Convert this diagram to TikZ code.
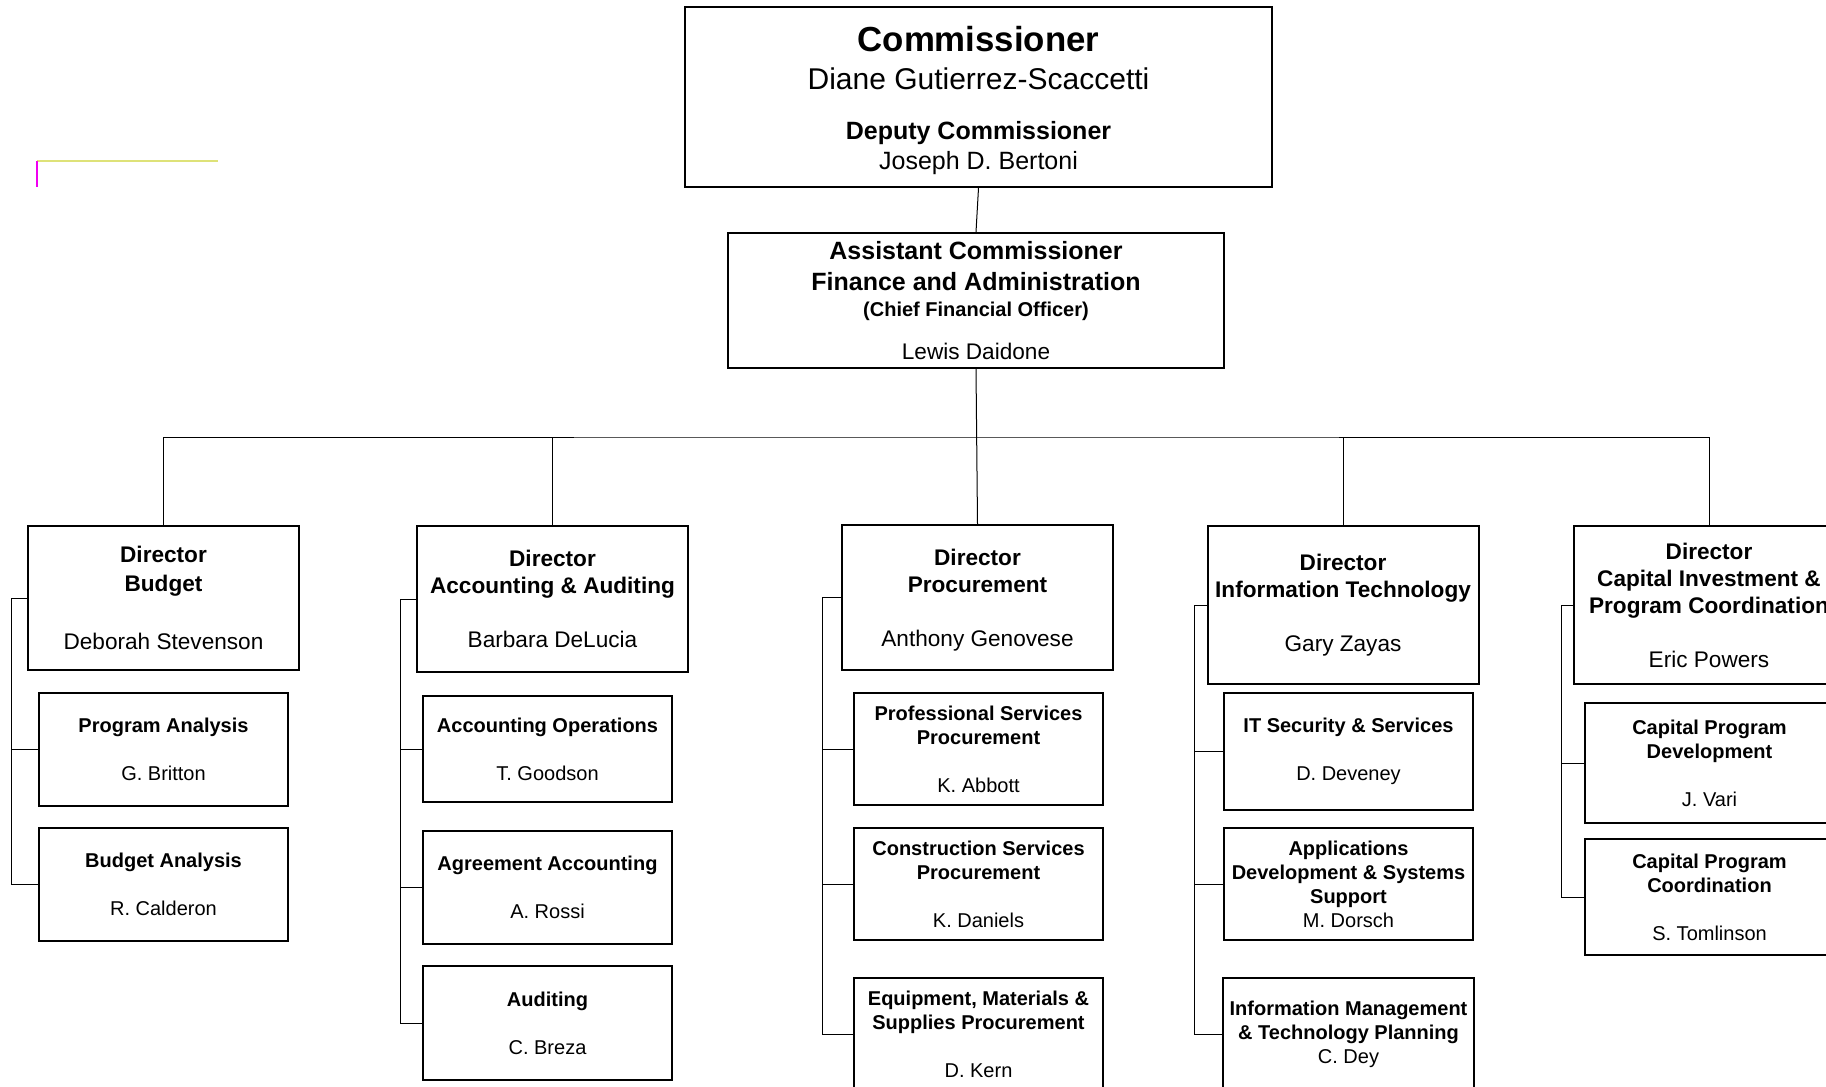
\documentclass[tikz,border=0pt]{standalone}
\usepackage{fontspec}
\setmainfont{Liberation Sans}
\definecolor{strayyellow}{RGB}{222,226,120}
\definecolor{straymagenta}{RGB}{240,0,240}
\tikzset{headbox/.style={draw, line width=1pt, align=center, inner sep=2pt},
dirbox/.style={draw, line width=1pt, align=center, minimum width=135.5pt,
font=\fontsize{11.3}{13.5}\selectfont},
unitbox/.style={draw, line width=1pt, align=center, minimum width=124.5pt,
font=\fontsize{10}{12}\selectfont},
link/.style={line width=0.5pt}}

\begin{document}
\begin{tikzpicture}[x=0.5pt, y=-0.5pt]
        \useasboundingbox (0, 0) rectangle (1826, 1087);
        \clip (0, 0) rectangle (1826, 1087);

        \draw[strayyellow, line width=0.8pt] (37, 161) -- (218, 161);
        \draw[straymagenta, line width=0.8pt] (37, 161) -- (37, 187);

        \node[headbox, minimum width=293.5pt, minimum height=90pt, font=\fontsize{12.5}{15}\selectfont] (comm) at (978.5, 97)
            {\rule{0pt}{16.2pt}{\fontsize{17.4}{20}\selectfont\bfseries Commissioner}\\[3.8pt]
             {\fontsize{15}{18}\selectfont Diane Gutierrez-Scaccetti}\\[10.4pt]
             \textbf{Deputy Commissioner}\\ Joseph D. Bertoni};
        \node[headbox, minimum width=248pt, minimum height=67.5pt, font=\fontsize{12.5}{13}\selectfont] (asst) at (976, 300.5)
            {\textbf{Assistant Commissioner}\\[2.5pt] \textbf{Finance and Administration}\\
             {\fontsize{10}{12}\selectfont\bfseries (Chief Financial Officer)}\\[8.75pt]
             {\fontsize{11.3}{13}\selectfont Lewis Daidone}};

        \node[dirbox, minimum height=72pt, font=\fontsize{11.3}{14.5}\selectfont] (dirBudget) at (163.5, 598) {\textbf{Director}\\ \textbf{Budget}\\[14.5pt] Deborah Stevenson};
        \node[dirbox, minimum height=73pt] (dirAcct) at (552.5, 599) {\textbf{Director}\\ \textbf{Accounting \& Auditing}\\[13.5pt] Barbara DeLucia};
        \node[dirbox, minimum height=72.5pt] (dirProc) at (977.5, 597.5) {\rule{0pt}{10.5pt}\textbf{Director}\\ \textbf{Procurement}\\[13.5pt] Anthony Genovese};
        \node[dirbox, minimum height=79pt] (dirIT) at (1343, 605) {\textbf{Director}\\ \textbf{Information Technology}\\[13.5pt] Gary Zayas};
        \node[dirbox, minimum height=79pt] (dirCap) at (1709, 605) {\textbf{Director}\\ \textbf{Capital Investment \&}\\ \textbf{Program Coordination}\\[13.5pt] Eric Powers};

        \node[unitbox, minimum height=56.5pt] (progAn) at (163.5, 749.5) {\textbf{Program Analysis}\\[12pt] G. Britton};
        \node[unitbox, minimum height=56.5pt] (budAn) at (163.5, 884.5) {\textbf{Budget Analysis}\\[12pt] R. Calderon};

        \node[unitbox, minimum height=53pt] (acctOps) at (547.5, 749) {\textbf{Accounting Operations}\\[12pt] T. Goodson};
        \node[unitbox, minimum height=56.5pt] (agrAcct) at (547.5, 887.5) {\textbf{Agreement Accounting}\\[12pt] A. Rossi};
        \node[unitbox, minimum height=57pt] (audit) at (547.5, 1023) {\textbf{Auditing}\\[12pt] C. Breza};

        \node[unitbox, minimum height=56pt] (profServ) at (978.5, 749) {\textbf{Professional Services}\\ \textbf{Procurement}\\[12pt] K. Abbott};
        \node[unitbox, minimum height=56pt] (constServ) at (978.5, 884) {\textbf{Construction Services}\\ \textbf{Procurement}\\[12pt] K. Daniels};
        \node[unitbox, minimum height=56pt] (equipSup) at (978.5, 1034) {\textbf{Equipment, Materials \&}\\ \textbf{Supplies Procurement}\\[12pt] D. Kern};

        \node[unitbox, minimum height=58.5pt] (itSec) at (1348.5, 751.5) {\textbf{IT Security \& Services}\\[12pt] D. Deveney};
        \node[unitbox, minimum height=56pt] (appDev) at (1348.5, 884) {\textbf{Applications}\\ \textbf{Development \& Systems}\\ \textbf{Support}\\ M. Dorsch};
        \node[unitbox, minimum height=56pt] (infoMgmt) at (1348.5, 1034) {\textbf{Information Management}\\ \textbf{\& Technology Planning}\\ C. Dey};

        \node[unitbox, minimum height=60pt] (capDev) at (1709.5, 763) {\textbf{Capital Program}\\ \textbf{Development}\\[12pt] J. Vari};
        \node[unitbox, minimum height=58pt] (capCoord) at (1709.5, 897) {\textbf{Capital Program}\\ \textbf{Coordination}\\[12pt] S. Tomlinson};

        \coordinate (bus) at (976, 437);
        \draw[link] (comm.south) -- (asst.north);
        \draw[link] (asst.south) -- (dirProc.north);
        \draw[link] (dirBudget.north) |- (bus) -| (dirCap.north);
        \draw[link] (dirAcct.north) -- (dirAcct.north |- bus);
        \draw[link] (dirIT.north) -- (dirIT.north |- bus);

        \draw[link] (dirBudget.west) -- ++(-16, 0) |- (progAn.west)
                    (dirBudget.west) -- ++(-16, 0) |- (budAn.west);
        \draw[link] (dirAcct.west) -- ++(-16, 0) |- (acctOps.west)
                    (dirAcct.west) -- ++(-16, 0) |- (agrAcct.west)
                    (dirAcct.west) -- ++(-16, 0) |- (audit.west);
        \draw[link] (dirProc.west) -- ++(-19, 0) |- (profServ.west)
                    (dirProc.west) -- ++(-19, 0) |- (constServ.west)
                    (dirProc.west) -- ++(-19, 0) |- (equipSup.west);
        \draw[link] (dirIT.west) -- ++(-12, 0) |- (itSec.west)
                    (dirIT.west) -- ++(-12, 0) |- (appDev.west)
                    (dirIT.west) -- ++(-12, 0) |- (infoMgmt.west);
        \draw[link] (dirCap.west) -- ++(-11, 0) |- (capDev.west)
                    (dirCap.west) -- ++(-11, 0) |- (capCoord.west);
    \end{tikzpicture}
\end{document}
